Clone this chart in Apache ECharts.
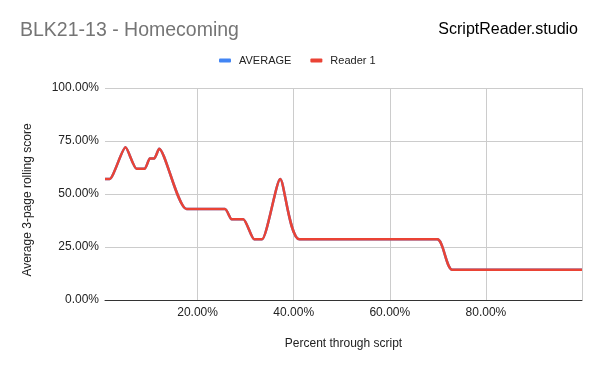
<!DOCTYPE html>
<html>
<head>
<meta charset="utf-8">
<script src="https://cdn.jsdelivr.net/npm/echarts@6/dist/echarts.min.js"></script>
<style>html,body{margin:0;padding:0;background:#fff}#c{width:600px;height:371px}</style>
</head>
<body>
<div id="c"></div>
<script>
// Percent through script (x) and 3-page rolling score (%)
const xPercent = [0.73, 1.7, 5.0, 7.3, 9.0, 10.06, 10.95, 12.0, 17.7, 25.7, 27.1, 29.5, 31.8, 33.4, 37.2, 41.2, 69.9, 73.0, 100];
const reader1Values = [57.1, 57.1, 72.0, 61.9, 61.9, 66.7, 66.7, 71.4, 42.9, 42.9, 38.1, 38.1, 28.6, 28.6, 57.1, 28.6, 28.6, 14.3, 14.3];
const averageValues = [57.1, 57.1, 72.0, 61.9, 61.9, 66.7, 66.7, 71.4, 42.9, 42.9, 38.1, 38.1, 28.6, 28.6, 57.1, 28.6, 28.6, 14.3, 14.3];
const xTickLabels = [20, 40, 60, 80];
const xGridValues = [20, 40, 60, 80, 100];

const FONT = 'Liberation Sans, Arial, sans-serif';
const pair = (xs, ys) => xs.map((x, i) => [x, ys[i]]);

const chart = echarts.init(document.getElementById('c'), null, {renderer: 'canvas'});
chart.setOption({
  animation: false,
  backgroundColor: '#ffffff',
  title: [
    {text: 'BLK21-13 - Homecoming', left: 20, top: 21, padding: 0,
     textStyle: {fontFamily: FONT, fontSize: 19.5, fontWeight: 'normal', color: '#757575'}},
    {text: 'ScriptReader.studio', right: 22, top: 22, padding: 0,
     textStyle: {fontFamily: FONT, fontSize: 16, fontWeight: 'normal', color: '#000000'}}
  ],
  legend: {
    left: 219, top: 55, padding: 0,
    itemWidth: 12, itemHeight: 4, itemGap: 19,
    icon: 'roundRect',
    textStyle: {fontFamily: FONT, fontSize: 11, color: '#222222', padding: [0, 0, 0, 3]},
    data: ['AVERAGE', 'Reader 1']
  },
  grid: {left: 105, right: 18, top: 88, bottom: 71, containLabel: false},
  xAxis: {
    type: 'value', min: 0.73, max: 100,
    name: 'Percent through script', nameLocation: 'middle', nameGap: 38,
    nameTextStyle: {fontFamily: FONT, fontSize: 12, color: '#222222'},
    axisLine: {show: true, lineStyle: {color: '#333333', width: 1}},
    axisTick: {show: false, customValues: xGridValues},
    axisLabel: {customValues: xTickLabels, fontFamily: FONT, fontSize: 12, color: '#222222', margin: 7,
      formatter: v => v.toFixed(2) + '%'},
    splitLine: {show: true, lineStyle: {color: '#cccccc', width: 1}}
  },
  yAxis: {
    type: 'value', min: 0, max: 100, interval: 25,
    name: 'Average 3-page rolling score', nameLocation: 'middle', nameGap: 71,
    nameTextStyle: {fontFamily: FONT, fontSize: 12, color: '#222222', padding: [0, 12, 0, 0]},
    axisLine: {show: false}, axisTick: {show: false},
    axisLabel: {fontFamily: FONT, fontSize: 12, color: '#222222', margin: 6,
      formatter: v => v.toFixed(2) + '%'},
    splitLine: {show: true, lineStyle: {color: '#cccccc', width: 1}}
  },
  series: [
    {name: 'AVERAGE', type: 'line', data: pair(xPercent, averageValues), smooth: 0.2,
     showSymbol: false, symbol: 'none', color: '#4285F4', lineStyle: {width: 2.5, color: '#4285F4'}, z: 2},
    {name: 'Reader 1', type: 'line', data: pair(xPercent, reader1Values), smooth: 0.2,
     showSymbol: false, symbol: 'none', color: '#EA4335', lineStyle: {width: 2.5, color: '#EA4335'}, z: 3}
  ]
});
</script>
</body>
</html>
